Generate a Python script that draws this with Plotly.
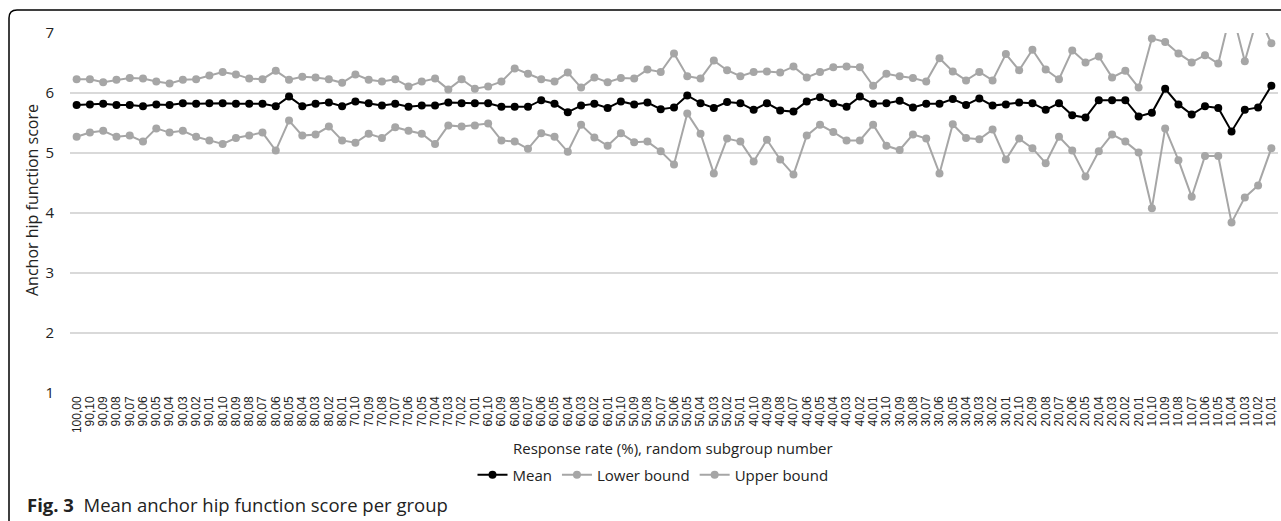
import plotly.graph_objects as go

categories = [
    "100,00",
    "90,10", "90,09", "90,08", "90,07", "90,06", "90,05", "90,04", "90,03", "90,02", "90,01",
    "80,10", "80,09", "80,08", "80,07", "80,06", "80,05", "80,04", "80,03", "80,02", "80,01",
    "70,10", "70,09", "70,08", "70,07", "70,06", "70,05", "70,04", "70,03", "70,02", "70,01",
    "60,10", "60,09", "60,08", "60,07", "60,06", "60,05", "60,04", "60,03", "60,02", "60,01",
    "50,10", "50,09", "50,08", "50,07", "50,06", "50,05", "50,04", "50,03", "50,02", "50,01",
    "40,10", "40,09", "40,08", "40,07", "40,06", "40,05", "40,04", "40,03", "40,02", "40,01",
    "30,10", "30,09", "30,08", "30,07", "30,06", "30,05", "30,04", "30,03", "30,02", "30,01",
    "20,10", "20,09", "20,08", "20,07", "20,06", "20,05", "20,04", "20,03", "20,02", "20,01",
    "10,10", "10,09", "10,08", "10,07", "10,06", "10,05", "10,04", "10,03", "10,02", "10,01",
]

mean = [
    5.80,
    5.81, 5.82, 5.80, 5.80, 5.78, 5.81, 5.80, 5.83, 5.82, 5.83,
    5.83, 5.82, 5.82, 5.82, 5.78, 5.94, 5.78, 5.82, 5.84, 5.78,
    5.86, 5.83, 5.79, 5.82, 5.77, 5.79, 5.79, 5.84, 5.83, 5.83,
    5.83, 5.77, 5.77, 5.77, 5.88, 5.82, 5.68, 5.79, 5.82, 5.75,
    5.86, 5.81, 5.84, 5.73, 5.76, 5.96, 5.83, 5.75, 5.85, 5.83,
    5.72, 5.83, 5.71, 5.69, 5.86, 5.93, 5.83, 5.77, 5.94, 5.82,
    5.83, 5.87, 5.76, 5.82, 5.82, 5.90, 5.80, 5.91, 5.79, 5.81,
    5.84, 5.83, 5.72, 5.83, 5.63, 5.59, 5.88, 5.88, 5.88, 5.61,
    5.67, 6.07, 5.81, 5.64, 5.78, 5.75, 5.36, 5.72, 5.76, 6.12,
]

lower_bound = [
    5.27,
    5.34, 5.37, 5.27, 5.29, 5.19, 5.41, 5.34, 5.37, 5.27, 5.21,
    5.15, 5.25, 5.29, 5.34, 5.04, 5.54, 5.29, 5.31, 5.44, 5.21,
    5.17, 5.32, 5.25, 5.43, 5.37, 5.32, 5.15, 5.46, 5.44, 5.46,
    5.49, 5.21, 5.19, 5.07, 5.33, 5.27, 5.02, 5.47, 5.26, 5.12,
    5.33, 5.18, 5.19, 5.03, 4.81, 5.66, 5.32, 4.66, 5.24, 5.19,
    4.86, 5.22, 4.89, 4.64, 5.29, 5.47, 5.35, 5.21, 5.21, 5.47,
    5.12, 5.05, 5.31, 5.24, 4.66, 5.48, 5.25, 5.23, 5.39, 4.89,
    5.24, 5.08, 4.83, 5.27, 5.04, 4.61, 5.03, 5.31, 5.19, 5.01,
    4.08, 5.41, 4.88, 4.27, 4.95, 4.95, 3.84, 4.26, 4.46, 5.08,
]

upper_bound = [
    6.23,
    6.23, 6.18, 6.22, 6.25, 6.24, 6.19, 6.16, 6.22, 6.23, 6.29,
    6.35, 6.31, 6.24, 6.23, 6.37, 6.22, 6.27, 6.26, 6.23, 6.17,
    6.31, 6.22, 6.19, 6.23, 6.11, 6.19, 6.24, 6.06, 6.23, 6.07,
    6.11, 6.19, 6.41, 6.32, 6.23, 6.19, 6.34, 6.09, 6.26, 6.18,
    6.25, 6.24, 6.39, 6.35, 6.66, 6.28, 6.24, 6.54, 6.38, 6.28,
    6.35, 6.36, 6.34, 6.44, 6.26, 6.35, 6.43, 6.44, 6.43, 6.12,
    6.32, 6.28, 6.25, 6.19, 6.58, 6.36, 6.21, 6.35, 6.21, 6.65,
    6.38, 6.72, 6.39, 6.23, 6.71, 6.51, 6.61, 6.26, 6.37, 6.09,
    6.91, 6.85, 6.66, 6.51, 6.63, 6.49, 7.40, 6.53, 7.30, 6.83,
]

y_ticks = [1, 2, 3, 4, 5, 6, 7]

W, H = 1281, 521
ML, MR, MT, MB = 70, 3, 33, 128
PW, PH = W - ML - MR, H - MT - MB

def px(x):
    return (x - ML) / PW

def py(y):
    return (H - MB - y) / PH

GRAY = "#a6a6a6"
FONT = "Open Sans"

fig = go.Figure()
fig.add_trace(go.Scatter(
    x=categories, y=mean, name="Mean", mode="lines+markers",
    line=dict(color="black", width=2), marker=dict(color="black", size=8),
))
fig.add_trace(go.Scatter(
    x=categories, y=lower_bound, name="Lower bound", mode="lines+markers",
    line=dict(color=GRAY, width=2), marker=dict(color=GRAY, size=8),
))
fig.add_trace(go.Scatter(
    x=categories, y=upper_bound, name="Upper bound", mode="lines+markers",
    line=dict(color=GRAY, width=2), marker=dict(color=GRAY, size=8),
))

# frame (rounded top-left corner)
r = 8
path = (f"M {px(9)},{py(H + 5)} L {px(9)},{py(10 + r)} "
        f"Q {px(9)},{py(10)} {px(9 + r)},{py(10)} L {px(W + 5)},{py(10)}")

fig.update_layout(
    width=W, height=H,
    margin=dict(l=ML, r=MR, t=MT, b=MB, autoexpand=False),
    paper_bgcolor="white", plot_bgcolor="white",
    font=dict(family=FONT, color="#222222"),
    showlegend=True,
    legend=dict(
        orientation="h", x=px(653), xanchor="center", y=py(475), yanchor="middle",
        font=dict(family=FONT, size=15, color="#222222"),
        itemwidth=30, tracegroupgap=0, bgcolor="rgba(0,0,0,0)",
    ),
    xaxis=dict(
        type="category", categoryorder="array", categoryarray=categories,
        tickmode="array", tickvals=categories, ticktext=categories,
        tickangle=-90, tickfont=dict(family="Liberation Sans", size=12, color="#222222"),
        showgrid=False, zeroline=False, showline=False, ticks="",
        range=[-0.5, len(categories) - 0.5], automargin=False,
    ),
    yaxis=dict(
        range=[1, 7], tickvals=y_ticks, showgrid=True, gridcolor="#d9d9d9", gridwidth=1.5,
        zeroline=False, showline=False, ticks="", ticklabelstandoff=15,
        tickfont=dict(family=FONT, size=15, color="#222222"), automargin=False,
    ),
    shapes=[dict(type="path", xref="paper", yref="paper", path=path,
                 line=dict(color="black", width=1.5), layer="above")],
    annotations=[
        dict(text="Response rate (%), random subgroup number", xref="paper", yref="paper",
             x=px(673), y=py(448), xanchor="center", yanchor="middle", showarrow=False,
             font=dict(family=FONT, size=15, color="#222222")),
        dict(text="Anchor hip function score", xref="paper", yref="paper",
             x=px(32), y=py(200), xanchor="center", yanchor="middle", showarrow=False,
             textangle=-90, font=dict(family=FONT, size=16, color="#222222")),
        dict(text="<b>Fig. 3</b>  Mean anchor hip function score per group", xref="paper", yref="paper",
             x=px(25), y=py(504), xanchor="left", yanchor="middle", showarrow=False,
             font=dict(family=FONT, size=18.5, color="#222222")),
    ],
)

fig.write_html(
    "out.html",
    config={"displayModeBar": False},
    post_script="document.body.style.margin='0px';document.body.style.overflow='hidden';",
)
